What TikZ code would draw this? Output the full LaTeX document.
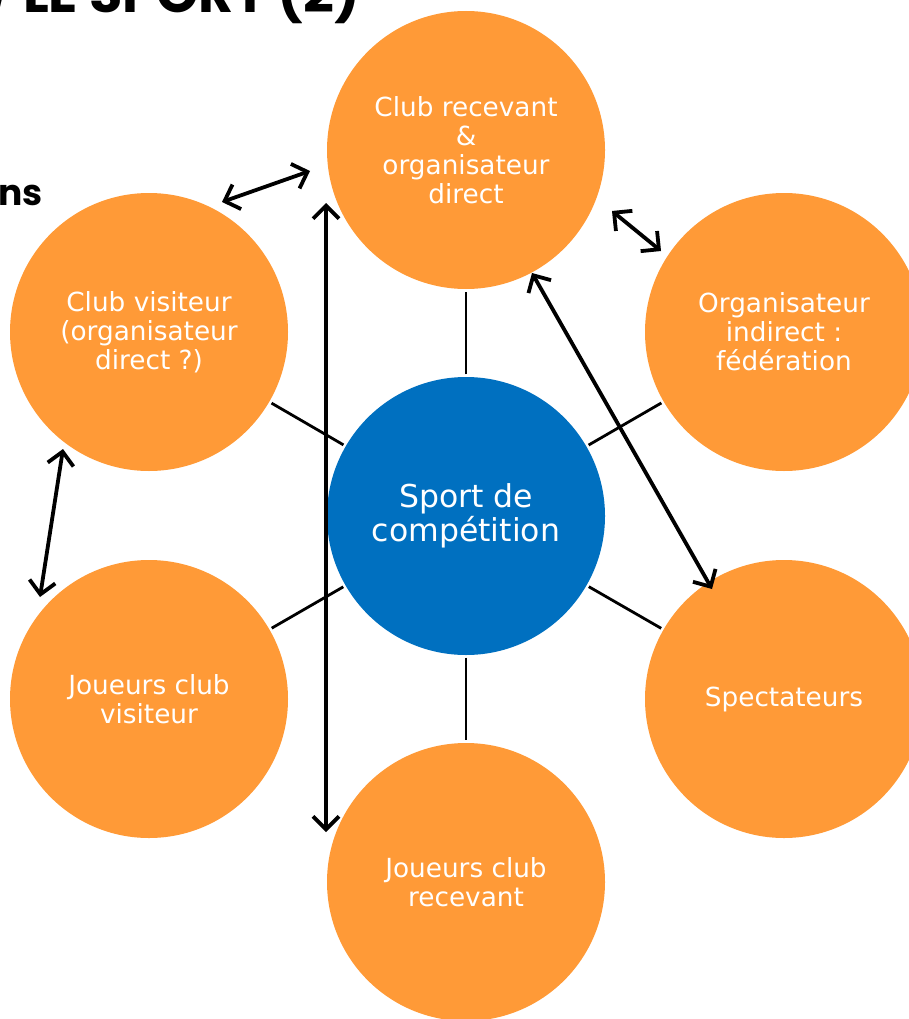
\documentclass[tikz,border=0pt]{standalone}
\usepackage{fontspec}
\setmainfont{DejaVu Sans}
\newfontfamily\headfont{Poppins}
\usetikzlibrary{arrows.meta}
\definecolor{bubbleorange}{HTML}{FF9A37}
\definecolor{hubblue}{HTML}{0070C0}

\begin{document}
\begin{tikzpicture}[x=1pt,y=1pt,
  bubble/.style={circle, fill=bubbleorange, minimum size=278pt, inner sep=0pt,
    text=white, align=center, font=\fontsize{26.3}{29}\selectfont},
  hub/.style={bubble, fill=hubblue, font=\fontsize{31.5}{34}\selectfont},
  spoke/.style={line width=2.8pt, shorten <=2.5pt, shorten >=2.5pt},
  barb/.tip={Straight Barb[length=13pt,width=26pt]},
  link/.style={line width=3.8pt, barb-barb},
  heading/.style={inner sep=0pt, text=black, font=\headfont\bfseries}]
\useasboundingbox (0,-1019) rectangle (909,0);
\clip (0,-1019) rectangle (909,0);

% slide heading, partly outside the frame
\node[heading, anchor=base east, font=\headfont\bfseries\fontsize{54}{54}\selectfont]
  (title) at (360,-13) {/ LE SPORT (2)};
\node[heading, anchor=base east, font=\headfont\bfseries\fontsize{36}{36}\selectfont]
  (sub) at (43,-205) {ns};

% hub and the six surrounding parties
\node[hub]    (hub) at (466,-516) {Sport de\\compétition};
\node[bubble] (cr)  at (466,-150) {Club recevant\\\&\\organisateur\\direct};
\node[bubble] (cv)  at (149,-332) {Club visiteur\\(organisateur\\direct ?)};
\node[bubble] (oi)  at (784,-332) {Organisateur\\indirect :\\fédération};
\node[bubble] (jv)  at (149,-699) {Joueurs club\\visiteur};
\node[bubble] (sp)  at (784,-699) {Spectateurs};
\node[bubble] (jr)  at (466,-882) {Joueurs club\\recevant};

% spokes from the hub
\foreach \n in {cr,cv,oi,jv,sp,jr}
  \draw[spoke] (hub) -- (\n);

% two-way relations
\coordinate (a1s) at (222,-202); \coordinate (a1e) at (310,-171);
\coordinate (a2s) at (326,-203); \coordinate (a2e) at (326,-832);
\coordinate (a3s) at (612,-211); \coordinate (a3e) at (661,-251);
\coordinate (a4s) at (532,-273); \coordinate (a4e) at (712,-589);
\coordinate (a5s) at (63,-449);  \coordinate (a5e) at (40,-597);
\draw[link] (a1s) -- (a1e);
\draw[link] (a2s) -- (a2e);
\draw[link] (a3s) -- (a3e);
\draw[link] (a4s) -- (a4e);
\draw[link] (a5s) -- (a5e);
\end{tikzpicture}
\end{document}
